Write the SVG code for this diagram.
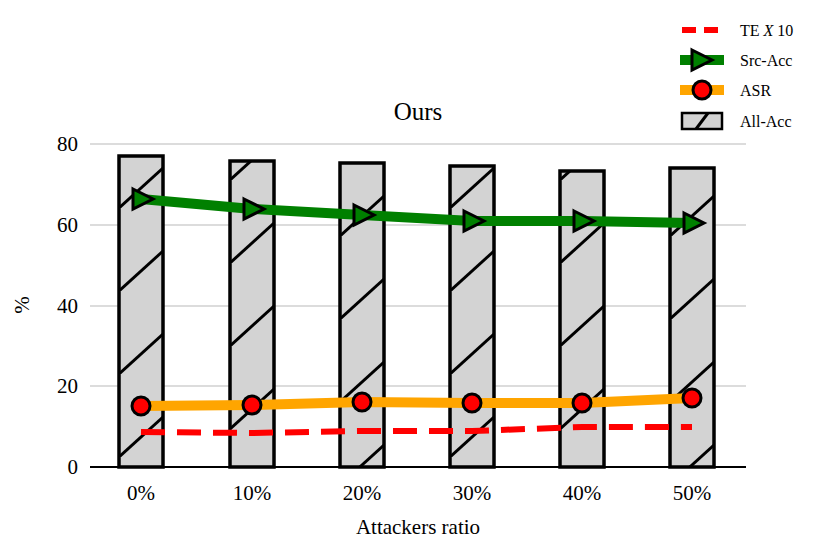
<svg xmlns="http://www.w3.org/2000/svg" width="830" height="555" viewBox="0 0 830 555">
<style>
text{font-family:"Liberation Serif",serif;fill:#000}
.tk{font-size:21px}
.grid{stroke:#d0d0d0;stroke-width:1.3}
.bar{stroke:#000;stroke-width:3.5}
.h{stroke:#000;stroke-width:3;fill:none}
.tri{fill:#008000;stroke:#000;stroke-width:3}
.dot{fill:#f00;stroke:#000;stroke-width:3}
</style>
<defs>
<pattern id="p0" patternUnits="userSpaceOnUse" x="119" y="42" width="44" height="83"><rect width="44" height="83" fill="#d3d3d3"/><path class="h" d="M0,83L44,43"/></pattern>
<pattern id="p1" patternUnits="userSpaceOnUse" x="230" y="14" width="44" height="83"><rect width="44" height="83" fill="#d3d3d3"/><path class="h" d="M0,83L44,43"/></pattern>
<pattern id="p2" patternUnits="userSpaceOnUse" x="340" y="70" width="44" height="83"><rect width="44" height="83" fill="#d3d3d3"/><path class="h" d="M0,83L44,43"/></pattern>
<pattern id="p3" patternUnits="userSpaceOnUse" x="450" y="42" width="44" height="83"><rect width="44" height="83" fill="#d3d3d3"/><path class="h" d="M0,83L44,43"/></pattern>
<pattern id="p4" patternUnits="userSpaceOnUse" x="560" y="14" width="44" height="83"><rect width="44" height="83" fill="#d3d3d3"/><path class="h" d="M0,83L44,43"/></pattern>
<pattern id="p5" patternUnits="userSpaceOnUse" x="670" y="70" width="44" height="83"><rect width="44" height="83" fill="#d3d3d3"/><path class="h" d="M0,83L44,43"/></pattern>
</defs>
<g id="grid">
<line class="grid" x1="90" y1="386" x2="746" y2="386"/>
<line class="grid" x1="90" y1="306" x2="746" y2="306"/>
<line class="grid" x1="90" y1="225" x2="746" y2="225"/>
<line class="grid" x1="90" y1="144" x2="746" y2="144"/>
</g>
<g id="bars">
<rect class="bar" fill="url(#p0)" x="119" y="156" width="44" height="311"/>
<rect class="bar" fill="url(#p1)" x="230" y="161" width="44" height="306"/>
<rect class="bar" fill="url(#p2)" x="340" y="163" width="44" height="304"/>
<rect class="bar" fill="url(#p3)" x="450" y="166" width="44" height="301"/>
<rect class="bar" fill="url(#p4)" x="560" y="171" width="44" height="296"/>
<rect class="bar" fill="url(#p5)" x="670" y="168" width="44" height="299"/>
</g>
<line x1="90" y1="467" x2="746" y2="467" stroke="#000" stroke-width="2"/>
<g id="lines">
<polyline points="141,432 252,433 362,431 472,431 582,427 692,427" fill="none" stroke="#f00" stroke-width="6" stroke-dasharray="24,12"/>
<polyline points="141,406 252,405 362,402 472,403 582,403 692,398" fill="none" stroke="#ffa500" stroke-width="10"/>
<polyline points="141,199 252,209 362,215 472,221 582,221 692,223" fill="none" stroke="#008000" stroke-width="10"/>
<g>
<circle class="dot" cx="141" cy="406" r="9"/><circle class="dot" cx="252" cy="405" r="9"/><circle class="dot" cx="362" cy="402" r="9"/><circle class="dot" cx="472" cy="403" r="9"/><circle class="dot" cx="582" cy="403" r="9"/><circle class="dot" cx="692" cy="398" r="9"/>
</g>
<g>
<path class="tri" d="M133,189L153,199L133,209Z"/><path class="tri" d="M244,199L264,209L244,219Z"/><path class="tri" d="M354,205L374,215L354,225Z"/><path class="tri" d="M464,211L484,221L464,231Z"/><path class="tri" d="M574,211L594,221L574,231Z"/><path class="tri" d="M684,213L704,223L684,233Z"/>
</g>
</g>
<g id="axes" class="tk">
<text x="78" y="474" text-anchor="end" class="tk">0</text>
<text x="78" y="393" text-anchor="end" class="tk">20</text>
<text x="78" y="313" text-anchor="end" class="tk">40</text>
<text x="78" y="232" text-anchor="end" class="tk">60</text>
<text x="78" y="151" text-anchor="end" class="tk">80</text>
<text x="141" y="500" text-anchor="middle" class="tk">0%</text>
<text x="252" y="500" text-anchor="middle" class="tk">10%</text>
<text x="362" y="500" text-anchor="middle" class="tk">20%</text>
<text x="472" y="500" text-anchor="middle" class="tk">30%</text>
<text x="582" y="500" text-anchor="middle" class="tk">40%</text>
<text x="692" y="500" text-anchor="middle" class="tk">50%</text>
<text x="418" y="534" text-anchor="middle" class="tk">Attackers ratio</text>
<text transform="translate(29,305) rotate(-90)" text-anchor="middle" class="tk">%</text>
<text x="418" y="120" text-anchor="middle" font-size="25">Ours</text>
</g>
<g id="legend" font-size="16">
<line x1="682" y1="30" x2="722" y2="30" stroke="#f00" stroke-width="6" stroke-dasharray="14,8"/>
<text x="740" y="36" font-size="16">TE <tspan font-style="italic">X</tspan> 10</text>
<line x1="680" y1="60" x2="724" y2="60" stroke="#008000" stroke-width="10"/>
<path class="tri" d="M692,50L712,60L692,70Z"/>
<text x="740" y="66" font-size="16">Src-Acc</text>
<line x1="680" y1="90" x2="724" y2="90" stroke="#ffa500" stroke-width="10"/>
<circle class="dot" cx="702" cy="90" r="9"/>
<text x="740" y="96" font-size="16">ASR</text>
<rect x="682" y="113" width="40" height="16" fill="#d3d3d3" stroke="#000" stroke-width="2.5"/>
<path class="h" d="M696,129L708,113" stroke-width="2"/>
<text x="740" y="127" font-size="16">All-Acc</text>
</g>
</svg>
